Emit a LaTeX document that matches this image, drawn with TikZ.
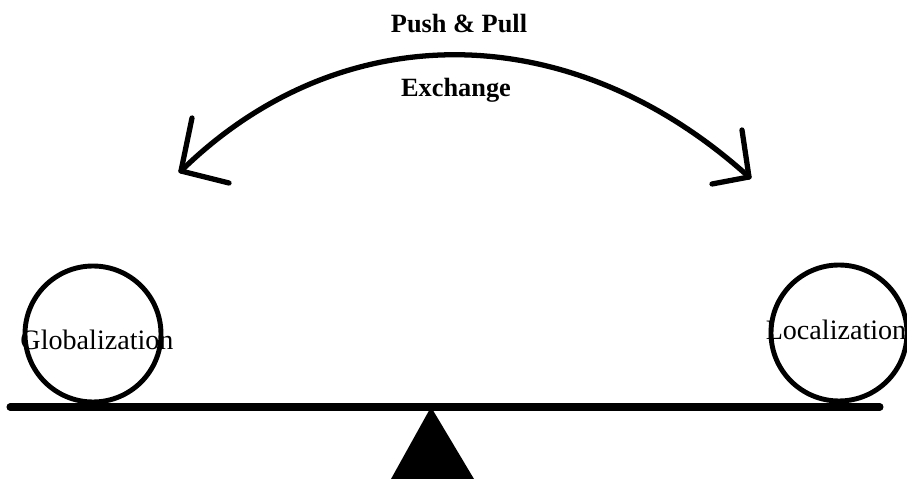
\documentclass[tikz,border=0pt]{standalone}
\usepackage{fontspec}
\setmainfont{Liberation Serif}
\begin{document}
\begin{tikzpicture}[x=0.02cm, y=-0.02cm, line join=round, line cap=round,
    ball/.style={draw, circle, line width=2.8pt, minimum size=136*0.02cm, inner sep=0pt},
    lab/.style={font=\fontsize{16}{18}\selectfont, anchor=base},
    toplab/.style={font=\bfseries\fontsize{15}{17}\selectfont, anchor=base}]
  \useasboundingbox (0,0) rectangle (907,479);
  \def\by{407} % beam height
  % seesaw
  \coordinate (bl) at (10,\by); \coordinate (br) at (880,\by);
  \draw[line width=4pt] (bl)--(br);
  \coordinate (piv) at (431,\by);
  \fill (piv)--(474,479)--(391,479)--cycle;
  % the two balls
  \node[ball] (glob) at (93,334) {};
  \node[ball] (loc) at (839,333) {};
  \node[lab] (globt) at (97,350) {Globalization};
  \node[lab] (loct) at (836,340) {Localization};
  % exchange arc
  \coordinate (lt) at (181,171); \coordinate (rt) at (749,177);
  \draw[line width=3pt] (lt) .. controls (340,15) and (570,15) .. (rt);
  \draw[line width=3pt] (192,118)--(lt)--(229,183);
  \draw[line width=3pt] (742,130)--(rt)--(712,184);
  \node[toplab] (push) at (459,33) {Push \& Pull};
  \node[toplab] (exch) at (456,97) {Exchange};
\end{tikzpicture}
\end{document}
